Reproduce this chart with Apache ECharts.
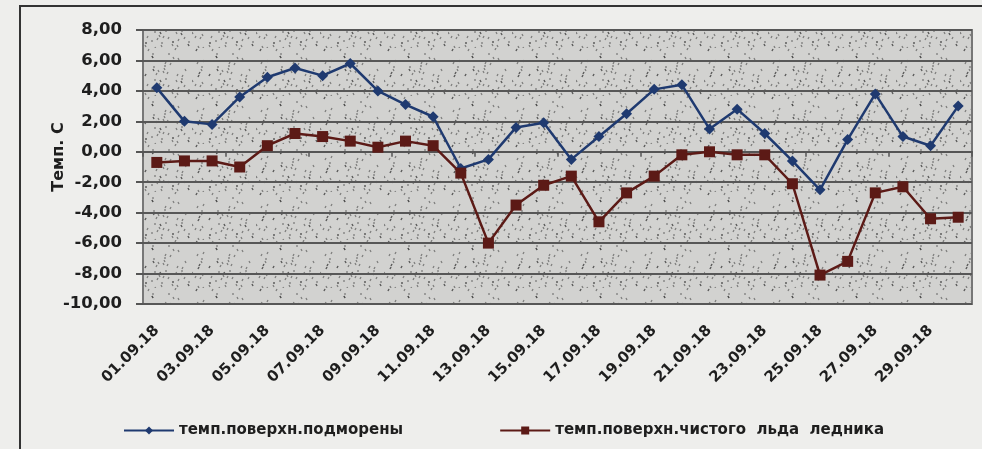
<!DOCTYPE html>
<html>
<head>
<meta charset="utf-8">
<script src="https://cdn.jsdelivr.net/npm/echarts@6/dist/echarts.min.js"></script>
<style>
  html, body { margin: 0; padding: 0; background: #eeeeec; }
  #chart { width: 982px; height: 449px; }
</style>
</head>
<body>
<div id="chart"></div>
<script>
// даты
const days = [
  '01.09.18', '02.09.18', '03.09.18', '04.09.18', '05.09.18', '06.09.18',
  '07.09.18', '08.09.18', '09.09.18', '10.09.18', '11.09.18', '12.09.18',
  '13.09.18', '14.09.18', '15.09.18', '16.09.18', '17.09.18', '18.09.18',
  '19.09.18', '20.09.18', '21.09.18', '22.09.18', '23.09.18', '24.09.18',
  '25.09.18', '26.09.18', '27.09.18', '28.09.18', '29.09.18', '30.09.18'
];

// темп. поверхности подморены
const moraine = [
  4.2, 2.0, 1.8, 3.6, 4.9, 5.5, 5.0, 5.8, 4.0, 3.1,
  2.3, -1.1, -0.5, 1.6, 1.9, -0.5, 1.0, 2.5, 4.1, 4.4,
  1.5, 2.8, 1.2, -0.6, -2.5, 0.8, 3.8, 1.0, 0.4, 3.0
];

// темп. поверхности чистого льда ледника
const cleanIce = [
  -0.7, -0.6, -0.6, -1.0, 0.4, 1.2, 1.0, 0.7, 0.3, 0.7,
  0.4, -1.4, -6.0, -3.5, -2.2, -1.6, -4.6, -2.7, -1.6, -0.2,
  0.0, -0.2, -0.2, -2.1, -8.1, -7.2, -2.7, -2.3, -4.4, -4.3
];

const seriesNames = ['темп.поверхн.подморены', 'темп.поверхн.чистого льда ледника'];
const blue = '#1f3a70';
const red = '#5c1a16';
const font = '"DejaVu Sans", "Noto Sans", sans-serif';
const textColor = '#1e1e1e';

// текстура фона (детерминированная)
function makeTexture() {
  const c = document.createElement('canvas');
  c.width = 64; c.height = 48;
  const ctx = c.getContext('2d');
  ctx.fillStyle = '#d2d2d0';
  ctx.fillRect(0, 0, 64, 48);
  ctx.strokeStyle = 'rgba(70,70,70,0.6)';
  ctx.lineWidth = 1.3;
  let s = 7;
  for (let i = 0; i < 70; i++) {
    s = (s * 73 + 41) % 997;
    const x = s % 64;
    const y = (s * 13) % 48;
    const dx = ((s >> 2) % 3) - 1;
    ctx.beginPath();
    ctx.moveTo(x, y);
    ctx.lineTo(x + dx, y + 2);
    ctx.stroke();
  }
  return c;
}

const myChart = echarts.init(document.getElementById('chart'));
myChart.setOption({
  backgroundColor: '#eeeeec',
  animation: false,
  textStyle: { fontFamily: font },
  graphic: [
    {
      type: 'polyline',
      shape: { points: [[20, 449], [20, 6], [982, 6]] },
      style: { stroke: '#333', lineWidth: 2, fill: null }
    }
  ],
  grid: {
    left: 143,
    right: 10,
    top: 30,
    bottom: 145,
    show: true,
    backgroundColor: { image: makeTexture(), repeat: 'repeat' },
    borderColor: '#777',
    borderWidth: 2
  },
  legend: {
    bottom: 6,
    left: 118,
    itemGap: 96,
    itemWidth: 50,
    itemHeight: 10,
    textStyle: { fontFamily: font, fontWeight: 'bold', fontSize: 15, color: textColor },
    formatter: (name) => name.replace(/ /g, '  '),
    data: seriesNames
  },
  xAxis: [
    {
      type: 'category',
      data: days,
      boundaryGap: true,
      position: 'bottom',
      axisLine: { show: false, onZero: false },
      axisTick: { show: false },
      axisLabel: {
        interval: 1,
        rotate: 45,
        margin: 24,
        fontFamily: font,
        fontWeight: 'bold',
        fontSize: 15,
        color: textColor
      }
    },
    {
      type: 'category',
      data: days,
      boundaryGap: true,
      position: 'bottom',
      axisLine: { show: true, onZero: true, lineStyle: { color: '#555', width: 2 } },
      axisTick: { show: true, length: 5, lineStyle: { color: '#555', width: 1.5 } },
      axisLabel: { show: false }
    }
  ],
  yAxis: {
    type: 'value',
    min: -10,
    max: 8,
    interval: 2,
    name: 'Темп. С',
    nameLocation: 'middle',
    nameGap: 76,
    nameMoveOverlap: false,
    nameTextStyle: {
      fontFamily: font, fontWeight: 'bold', fontSize: 16, color: textColor,
      padding: [0, 0, 0, 20]
    },
    axisLine: { show: false },
    axisTick: { show: true, length: 7, lineStyle: { color: '#555', width: 2 } },
    axisLabel: {
      margin: 21,
      fontFamily: font,
      fontWeight: 'bold',
      fontSize: 16.5,
      color: textColor,
      formatter: (v) => v.toFixed(2).replace('.', ',')
    },
    splitLine: { show: true, lineStyle: { color: '#575757', width: 2 } }
  },
  series: [
    {
      name: seriesNames[0],
      type: 'line',
      data: moraine,
      symbol: 'diamond',
      symbolSize: 11,
      color: blue,
      lineStyle: { color: blue, width: 2.5 },
      itemStyle: { color: blue }
    },
    {
      name: seriesNames[1],
      type: 'line',
      data: cleanIce,
      symbol: 'rect',
      symbolSize: 11,
      color: red,
      lineStyle: { color: red, width: 2.5 },
      itemStyle: { color: red }
    }
  ]
});

window.addEventListener('resize', () => {
  myChart.resize();
});
</script>
</body>
</html>
